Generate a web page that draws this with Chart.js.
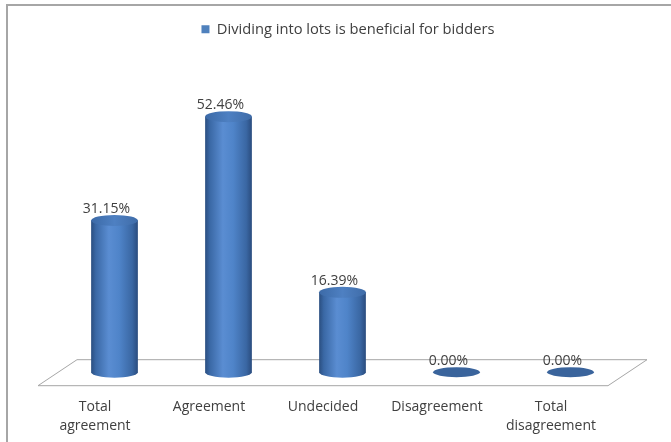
<!DOCTYPE html>
<html>
<head>
<meta charset="utf-8">
<script src="https://cdn.jsdelivr.net/npm/chart.js@4/dist/chart.umd.min.js"></script>
<style>
  body { margin: 0; background: #fff; }
  canvas { display: block; }
</style>
</head>
<body>
<canvas id="chart" width="671" height="442"></canvas>
<script>
const categories = [['Total', 'agreement'], 'Agreement', 'Undecided', 'Disagreement', ['Total', 'disagreement']]
const seriesName = 'Dividing into lots is beneficial for bidders'
const values = [31.15, 52.46, 16.39, 0, 0]

// floor depth: how far the back edge sits from the front edge
const depthX = 39
const depthY = -26
const font = "'Open Sans', sans-serif"

function sideGradient(ctx, x, r){
    const g = ctx.createLinearGradient(x - r, 0, x + r, 0)
    g.addColorStop(0, '#2a4e80')
    g.addColorStop(0.1, '#3a68a5')
    g.addColorStop(0.38, '#5a8dd2')
    g.addColorStop(0.6, '#4f84c9')
    g.addColorStop(0.88, '#3a67a3')
    g.addColorStop(1, '#2a4c7e')
    return g
}

const frame = {
    id: 'frame',
    beforeDraw(chart){
        const ctx = chart.ctx
        ctx.save()
        ctx.strokeStyle = '#a6a6a6'
        ctx.lineWidth = 2
        ctx.beginPath()
        ctx.moveTo(7, chart.height)
        ctx.lineTo(7, 5)
        ctx.lineTo(chart.width, 5)
        ctx.stroke()
        ctx.restore()
    }
}

// legend sits centred over the whole frame, not just the plot
const legendShift = {
    id: 'legendShift',
    afterLayout(chart){
        chart.legend.left += 25
        chart.legend.right += 25
    }
}

const cylinders = {
    id: 'cylinders',
    beforeDatasetsDraw(chart){
        const ctx = chart.ctx
        const area = chart.chartArea
        const y0 = chart.scales.y.getPixelForValue(0)

        // floor
        ctx.save()
        ctx.strokeStyle = '#a6a6a6'
        ctx.lineWidth = 1
        ctx.fillStyle = '#fff'
        ctx.beginPath()
        ctx.moveTo(area.left, y0 + 0.5)
        ctx.lineTo(area.right, y0 + 0.5)
        ctx.lineTo(area.right + depthX, y0 + depthY + 0.5)
        ctx.lineTo(area.left + depthX, y0 + depthY + 0.5)
        ctx.closePath()
        ctx.fill()
        ctx.stroke()

        const meta = chart.getDatasetMeta(0)
        meta.data.forEach((bar, i) => {
            const x = bar.x + depthX / 2
            const top = bar.y + depthY / 2
            const base = bar.base + depthY / 2
            const r = bar.width / 2
            const ry = 5.5

            if (values[i] > 0) {
                ctx.fillStyle = sideGradient(ctx, x, r)
                ctx.beginPath()
                ctx.moveTo(x - r, top)
                ctx.lineTo(x - r, base)
                ctx.ellipse(x, base, r, ry, 0, Math.PI, 0, true)
                ctx.lineTo(x + r, top)
                ctx.closePath()
                ctx.fill()

                const tg = ctx.createLinearGradient(x - r, 0, x + r, 0)
                tg.addColorStop(0, '#3c6aa7')
                tg.addColorStop(0.5, '#4e80c2')
                tg.addColorStop(1, '#3f6ca8')
                ctx.fillStyle = tg
                ctx.beginPath()
                ctx.ellipse(x, top, r, ry, 0, 0, Math.PI * 2)
                ctx.fill()
            } else {
                ctx.fillStyle = '#3a649c'
                ctx.beginPath()
                ctx.ellipse(x, base, r, ry - 0.5, 0, 0, Math.PI * 2)
                ctx.fill()
            }

            ctx.fillStyle = '#404040'
            ctx.font = '14px ' + font
            ctx.textAlign = 'center'
            ctx.textBaseline = 'bottom'
            ctx.fillText(values[i].toFixed(2) + '%', x - 8, top - ry + 1)
        })
        ctx.restore()
        return false
    }
}

new Chart(document.getElementById('chart'), {
    type: 'bar',
    data: {
        labels: categories,
        datasets: [{
            label: seriesName,
            data: values,
            backgroundColor: '#4f81bd',
            borderWidth: 0,
            categoryPercentage: 1,
            barPercentage: 0.41
        }]
    },
    options: {
        responsive: false,
        devicePixelRatio: 1,
        animation: false,
        layout: { padding: { top: 12, left: 38, right: 63, bottom: -5 } },
        plugins: {
            legend: {
                labels: {
                    boxWidth: 8,
                    boxHeight: 8,
                    padding: 10,
                    color: '#404040',
                    font: { family: font, size: 14.7 }
                }
            },
            tooltip: { enabled: false }
        },
        scales: {
            x: {
                grid: { display: false, drawTicks: false },
                border: { display: false },
                ticks: {
                    padding: 12,
                    maxRotation: 0,
                    color: '#404040',
                    font: { family: font, size: 14, lineHeight: 1.35 }
                }
            },
            y: {
                display: false,
                min: 0,
                max: 69.5
            }
        }
    },
    plugins: [frame, legendShift, cylinders]
})
</script>
</body>
</html>
